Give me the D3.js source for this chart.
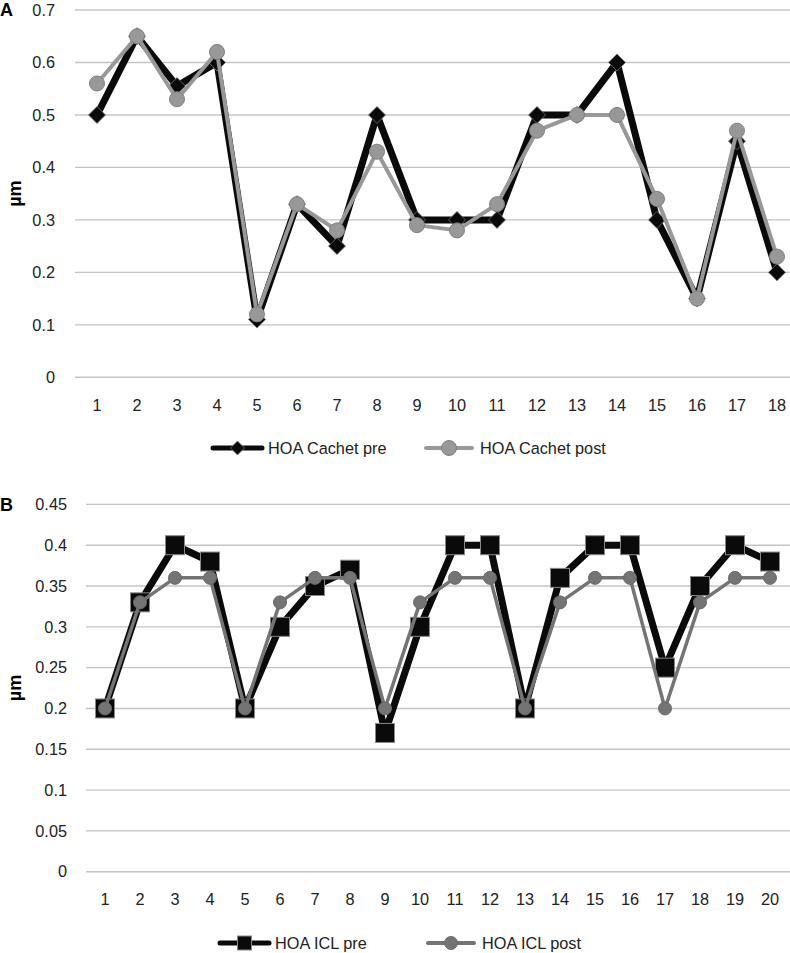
<!DOCTYPE html>
<html><head><meta charset="utf-8">
<script src="https://cdn.jsdelivr.net/npm/d3@7"></script>
<style>body{margin:0;background:#fff}svg{display:block}text{font-family:"Liberation Sans",Arial,sans-serif}</style>
</head><body>
<svg id="c" width="790" height="953"></svg>
<script>
const catsA = d3.range(1, 19).map(String);
const cachetPre  = [0.5,0.65,0.555,0.6,0.11,0.33,0.25,0.5,0.3,0.3,0.3,0.5,0.5,0.6,0.3,0.15,0.45,0.2];
const cachetPost = [0.56,0.65,0.53,0.62,0.12,0.33,0.28,0.43,0.29,0.28,0.33,0.47,0.5,0.5,0.34,0.15,0.47,0.23];
const ticksA = [0,0.1,0.2,0.3,0.4,0.5,0.6,0.7];
const catsB = d3.range(1, 21).map(String);
const iclPre  = [0.2,0.33,0.4,0.38,0.2,0.3,0.35,0.37,0.17,0.3,0.4,0.4,0.2,0.36,0.4,0.4,0.25,0.35,0.4,0.38];
const iclPost = [0.2,0.33,0.36,0.36,0.2,0.33,0.36,0.36,0.2,0.33,0.36,0.36,0.2,0.33,0.36,0.36,0.2,0.33,0.36,0.36];
const ticksB = [0,0.05,0.1,0.15,0.2,0.25,0.3,0.35,0.4,0.45];

const svg = d3.select("#c");
const FS = 16.3;

function panel(o){
  const g = svg.append("g");
  const x = d3.scaleBand().domain(o.cats).range(o.xr);
  const y = d3.scaleLinear().domain([0, o.ymax]).range(o.yr);
  const cx = c => x(c) + x.bandwidth()/2;
  g.selectAll(".grid").data(o.ticks).join("line")
    .attr("x1", o.gridX0).attr("x2", 790)
    .attr("y1", d => y(d)).attr("y2", d => y(d))
    .attr("stroke", "#c4c4c4").attr("stroke-width", 1.4);
  g.selectAll(".yl").data(o.ticks).join("text")
    .attr("x", o.labelX).attr("y", d => y(d)).attr("dy", "0.35em")
    .attr("text-anchor", "end").attr("font-size", FS).attr("fill", "#222")
    .text(d => d);
  g.selectAll(".xl").data(o.cats).join("text")
    .attr("x", d => cx(d)).attr("y", o.xLabelY).attr("dy", "0.35em")
    .attr("text-anchor", "middle").attr("font-size", FS).attr("fill", "#222")
    .text(d => d);
  g.append("text").attr("x", 0).attr("y", o.yr[1]).attr("dy", "0.35em")
    .attr("font-size", 18).attr("font-weight", "bold").text(o.letter);
  g.append("text").attr("transform", `translate(${o.titleX},${(o.yr[0]+o.yr[1])/2}) rotate(-90)`)
    .attr("text-anchor", "middle").attr("font-size", 18).attr("font-weight", "bold").text("µm");
  const line = d3.line().x((d,i) => cx(o.cats[i])).y(d => y(d));
  g.append("path").datum(o.pre).attr("d", line).attr("fill", "none")
    .attr("stroke", "#0a0a0a").attr("stroke-width", 7).attr("stroke-linejoin", "round");
  o.preMarker(g, o.pre.map((v,i) => [cx(o.cats[i]), y(v)]));
  g.append("path").datum(o.post).attr("d", line).attr("fill", "none")
    .attr("stroke", o.postColor).attr("stroke-width", o.postWidth).attr("stroke-linejoin", "round");
  g.selectAll(".pm").data(o.post).join("circle")
    .attr("cx", (d,i) => cx(o.cats[i])).attr("cy", d => y(d)).attr("r", o.postR)
    .attr("fill", o.postColor).attr("stroke", o.postStroke).attr("stroke-width", 1);
  const ly = o.legendY;
  const L = o.legend;
  g.append("line").attr("x1", L[0]).attr("x2", L[0]+49).attr("y1", ly).attr("y2", ly)
    .attr("stroke", "#0a0a0a").attr("stroke-width", 5).attr("stroke-linecap", "round");
  o.preMarker(g, [[L[0]+24.5, ly]], true);
  g.append("text").attr("x", L[0]+55).attr("y", ly).attr("dy", "0.35em").attr("font-size", FS).attr("fill", "#222").text(o.names[0]);
  g.append("line").attr("x1", L[1]).attr("x2", L[1]+46).attr("y1", ly).attr("y2", ly)
    .attr("stroke", o.postColor).attr("stroke-width", 4).attr("stroke-linecap", "round");
  g.append("circle").attr("cx", L[1]+23).attr("cy", ly).attr("r", o.postR)
    .attr("fill", o.postColor).attr("stroke", o.postStroke).attr("stroke-width", 1);
  g.append("text").attr("x", L[1]+54).attr("y", ly).attr("dy", "0.35em").attr("font-size", FS).attr("fill", "#222").text(o.names[1]);
}

function diamonds(g, pts, leg){
  const s = leg ? 7 : 8.5;
  g.selectAll(null).data(pts).join("path")
    .attr("d", d => `M${d[0]},${d[1]-s}L${d[0]+s},${d[1]}L${d[0]},${d[1]+s}L${d[0]-s},${d[1]}Z`)
    .attr("fill", "#0a0a0a").attr("stroke", "#777").attr("stroke-width", 0.8);
}
function squares(g, pts, leg){
  const s = leg ? 7 : 9.5;
  g.selectAll(null).data(pts).join("rect")
    .attr("x", d => d[0]-s).attr("y", d => d[1]-s).attr("width", 2*s).attr("height", 2*s)
    .attr("fill", "#0a0a0a").attr("stroke", "#888").attr("stroke-width", 1);
}

panel({cats: catsA, pre: cachetPre, post: cachetPost, ticks: ticksA, ymax: 0.7,
  xr: [77, 797], yr: [377.3, 10], gridX0: 75, labelX: 55, xLabelY: 405,
  letter: "A", titleX: 21, preMarker: diamonds, postColor: "#989898", postStroke: "#808080",
  postWidth: 4, postR: 7.5, legendY: 448, legend: [213, 426],
  names: ["HOA Cachet pre", "HOA Cachet post"]});

panel({cats: catsB, pre: iclPre, post: iclPost, ticks: ticksB, ymax: 0.45,
  xr: [87.5, 787.5], yr: [871.7, 504.4], gridX0: 86, labelX: 67, xLabelY: 899,
  letter: "B", titleX: 21, preMarker: squares, postColor: "#747474", postStroke: "#6a6a6a",
  postWidth: 3.5, postR: 6.5, legendY: 943, legend: [220, 428],
  names: ["HOA ICL pre", "HOA ICL post"]});
</script>
</body></html>
